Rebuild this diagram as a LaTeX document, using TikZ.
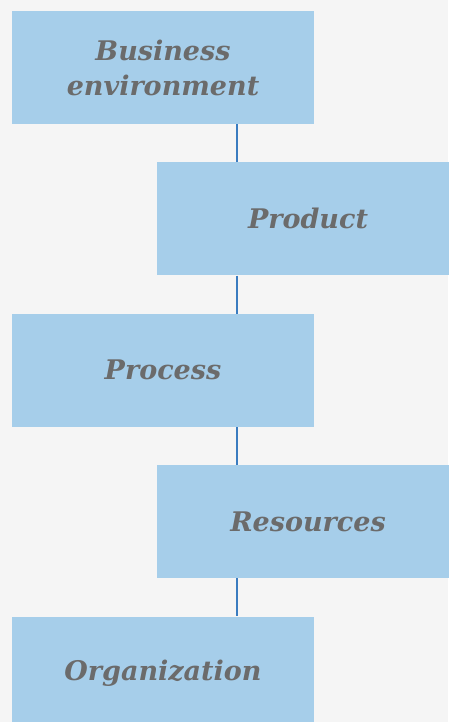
\documentclass[tikz,border=0pt]{standalone}
\usepackage{fontspec}
\setmainfont{DejaVu Serif}
\usetikzlibrary{positioning}
\definecolor{boxblue}{HTML}{A6CEEA}
\definecolor{linkblue}{HTML}{3A7CC0}
\definecolor{textgray}{HTML}{6B6B6B}
\definecolor{bggray}{HTML}{F5F5F5}

\begin{document}
\begin{tikzpicture}[x=1pt,y=-1pt,node distance=38pt,
	stage/.style={fill=boxblue,minimum width=302pt,minimum height=113pt,inner sep=0pt,
		align=center,text=textgray,font=\fontsize{27}{35}\selectfont\bfseries\itshape},
	link/.style={draw=linkblue,line width=1.4pt}]
\useasboundingbox[fill=bggray] (0,0) rectangle (448,722);
\node[stage] (env) at (163,67.5) {Business\\environment};
\node[stage] (prod) [below=of env,xshift=145pt] {Product};
\node[stage] (proc) [below=of prod,xshift=-145pt] {Process};
\node[stage] (res) [below=of proc,xshift=145pt] {Resources};
\node[stage] (org) [below=of res,xshift=-145pt] {Organization};
\path[link]
	([xshift=74pt]env.south) edge ([xshift=-71pt]prod.north)
	([xshift=-71pt]prod.south) edge ([xshift=74pt]proc.north)
	([xshift=74pt]proc.south) edge ([xshift=-71pt]res.north)
	([xshift=-71pt]res.south) edge ([xshift=74pt]org.north);
\end{tikzpicture}
\end{document}
